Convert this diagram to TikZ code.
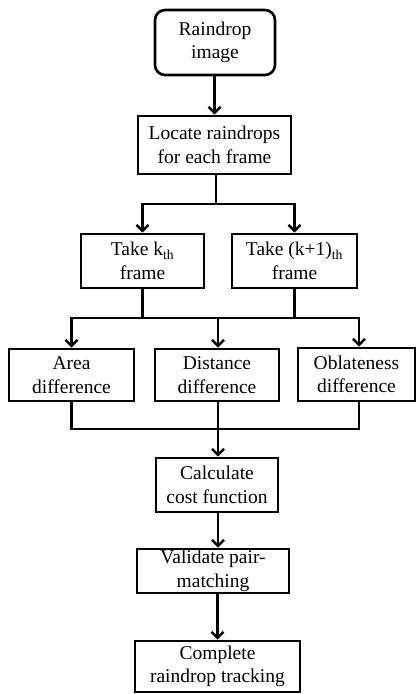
\documentclass[tikz,border=0pt]{standalone}
\usepackage{fontspec}
\setmainfont{Liberation Serif}
\usetikzlibrary{arrows.meta}
\begin{document}
\begin{tikzpicture}[x=1pt,y=-1pt,
  box/.style={draw,line width=2.6pt,inner sep=0pt,align=center,
    font=\fontsize{19.5}{23.5}\selectfont},
  arr/.style={line width=2.6pt,-{Straight Barb[length=6pt,width=12pt,line width=2.6pt]}},
  ln/.style={line width=2.6pt}]
\useasboundingbox (0,0) rectangle (417,694);
\node[box,rounded corners=10pt,minimum width=120pt,minimum height=65pt] (raw) at (215,42.5) {Raindrop\\image};
\node[box,minimum width=153pt,minimum height=58pt] (locate) at (214.5,145) {Locate raindrops\\for each frame};
\node[box,minimum width=123pt,minimum height=54pt] (tk) at (142.5,261) {Take k\textsubscript{th}\\frame};
\node[box,minimum width=125pt,minimum height=54pt] (tk1) at (294.5,261) {Take (k+1)\textsubscript{th}\\frame};
\node[box,minimum width=125pt,minimum height=52pt] (area) at (71.5,375) {Area\\difference};
\node[box,minimum width=124pt,minimum height=52pt] (dist) at (217,375) {Distance\\difference};
\node[box,minimum width=117pt,minimum height=53pt] (obl) at (356.5,374.5) {Oblateness\\difference};
\node[box,minimum width=122pt,minimum height=54pt] (calc) at (217,485) {Calculate\\cost function};
\node[box,minimum width=152pt,minimum height=44pt] (valid) at (213,571) {Validate pair-\\matching};
\node[box,minimum width=165pt,minimum height=51pt] (comp) at (217.5,666.5) {Complete\\raindrop tracking};
\coordinate (j1) at (216,204);
\coordinate (j2) at (218,318);
\coordinate (j3) at (218,429);
% split after locate
\draw[ln] (locate.south -| j1) -- (j1);
\draw[arr] (j1) -| (tk.north);
\draw[arr] (j1) -| (tk1.north);
% merge of take frames and split
\draw[ln] (tk.south) -- (tk.south |- j2);
\draw[ln] (tk1.south) -- (tk1.south |- j2);
\draw[arr] (j2) -| (area.north);
\draw[arr] (j2) -| ([xshift=2.5pt]obl.north);
\draw[arr] (j2) -- (dist.north -| j2);
% merge differences
\draw[ln] (area.south) |- (j3);
\draw[ln] ([xshift=2.5pt]obl.south) |- (j3);
\draw[ln] (dist.south -| j3) -- (j3);
\draw[arr] (j3) -- (calc.north -| j3);
\draw[arr] (raw.south -| locate.south) -- (locate.north);
\draw[arr] (calc.south -| j3) -- (valid.north -| j3);
\draw[arr] (valid.south -| comp.north) -- (comp.north);
\end{tikzpicture}
\end{document}
